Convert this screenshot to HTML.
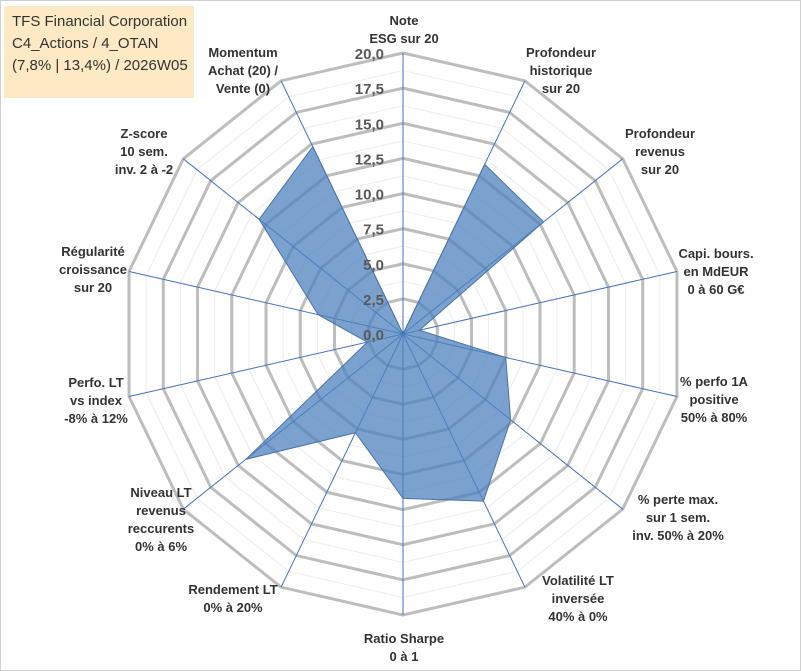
<!DOCTYPE html>
<html><head><meta charset="utf-8"><style>
body{margin:0;background:#fff;}
svg{display:block;font-family:"Liberation Sans",sans-serif;}
</style></head><body>
<svg id="chart" width="801" height="671" viewBox="0 0 801 671">
<rect x="0.5" y="0.5" width="800" height="670" fill="#fff" stroke="#d0d0d0"/>
<g id="grid"></g><g id="series"></g><g id="ticks"></g><g id="labels"></g>
<g>
<rect x="4" y="6" width="190" height="92" fill="#fde9c4"/>
<text x="12" y="26" font-size="15" fill="#333">TFS Financial Corporation</text>
<text x="12" y="48" font-size="15" fill="#333">C4_Actions / 4_OTAN</text>
<text x="12" y="70" font-size="15" fill="#333">(7,8% | 13,4%) / 2026W05</text>
</g>
</svg>
<script>
const categories=[["Note","ESG sur 20"],["Profondeur","historique","sur 20"],["Profondeur","revenus","sur 20"],["Capi. bours.","en MdEUR","0 à 60 G€"],["% perfo 1A","positive","50% à 80%"],["% perte max.","sur 1 sem.","inv. 50% à 20%"],["Volatilité LT","inversée","40% à 0%"],["Ratio Sharpe","0 à 1"],["Rendement LT","0% à 20%"],["Niveau LT","revenus","reccurents","0% à 6%"],["Perfo. LT","vs index","-8% à 12%"],["Régularité","croissance","sur 20"],["Z-score","10 sem.","inv. 2 à -2"],["Momentum","Achat (20) /","Vente (0)"]];
const values=[0,13.4,12.8,1.2,7.5,9.8,13.2,11.7,7.8,14.3,2.6,6.2,13.1,14.8];
const tickLabels=["0,0","2,5","5,0","7,5","10,0","12,5","15,0","17,5","20,0"];
const tickValues=[0,2.5,5,7.5,10,12.5,15,17.5,20];
const labelAnchors=[[404,20],[561,52],[660,133],[716,253],[714,381],[678,499],[578,580],[404,638],[233,589],[161,492],[96,382],[93,251],[144,133],[243,52]];
const cx=403,cy=334,R=281,maxV=20,N=categories.length,NS="http://www.w3.org/2000/svg";
function rScale(v){return v/maxV*R;}
function pt(i,v){const a=i*2*Math.PI/N;return [cx+rScale(v)*Math.sin(a),cy-rScale(v)*Math.cos(a)];}
function mk(tag,attrs,parent){const e=document.createElementNS(NS,tag);for(const k in attrs)e.setAttribute(k,attrs[k]);parent.appendChild(e);return e;}
const grid=document.getElementById('grid');
for(let k=1;k<=16;k++){const v=k*1.25;const p=[];for(let i=0;i<N;i++)p.push(pt(i,v).join(','));
const major=k%2===0;
const ring=mk('polygon',{points:p.join(' '),fill:'none',stroke:major?'#bdbdbd':'#ececec','stroke-width':major?3:1},grid);

}
for(let i=0;i<N;i++){const e=pt(i,maxV);const s=mk('line',{x1:cx,y1:cy,x2:e[0],y2:e[1],stroke:'#4472c4','stroke-width':1},grid);

}
const ser=document.getElementById('series');
const sp=values.map((v,i)=>pt(i,v).join(',')).join(' ');
const poly=mk('polygon',{points:sp,fill:'rgb(79,129,189)','fill-opacity':0.75,stroke:'#4a74a8','stroke-width':1},ser);


const tk=document.getElementById('ticks');
tickValues.forEach((v,i)=>{const t=mk('text',{x:cx-19,y:cy-rScale(v)+6,'text-anchor':'end','font-size':15,'font-weight':'bold',fill:'#595959'},tk);t.textContent=tickLabels[i];

});
const lb=document.getElementById('labels');
categories.forEach((lines,i)=>{const g=mk('text',{'text-anchor':'middle','font-size':13,'font-weight':'bold',fill:'#333'},lb);


lines.forEach((l,j)=>{const ts=mk('tspan',{x:labelAnchors[i][0],y:labelAnchors[i][1]+j*18+5},g);ts.textContent=l;});});
</script>
</body></html>
